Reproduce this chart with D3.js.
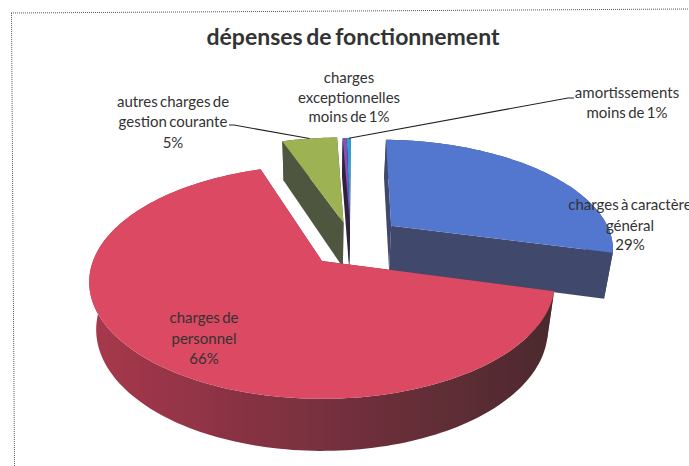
<!DOCTYPE html>
<html>
<head>
<meta charset="utf-8">
<title>dépenses de fonctionnement</title>
<script src="https://d3js.org/d3.v7.min.js"></script>
<style>
    html, body { margin: 0; padding: 0; background: #fff; overflow: hidden; }
    text { font-family: Lato, "Noto Sans", sans-serif; fill: #333; }
</style>
</head>
<body>
<div id="container"></div>
<script>
    // Values (percent of total)
    const categories = ["charges à caractère général", "charges de personnel", "autres charges de gestion courante", "amortissements", "charges exceptionnelles"];
    const values = [28.7, 65.8, 4.8, 0.35, 0.35];
    const percentLabels = ["29%", "66%", "5%", "moins de 1%", "moins de 1%"];

    const topColors = ["#5276cf", "#dc4a62", "#9db253", "#8a4fb0", "#2c9fdc"];
    const wallColors = ["#3f4a6c", "url(#redWall)", "#50573f", "#2f2440", "#2f2440"];

    const width = 689;
    const height = 466;

    // Perspective of the tilted disc: unit disc coordinates -> screen
    const cx = 322, cy = 261;
    const rx = 229, ry = 113, persp = 0.18;
    const depth = 46.5, depthPersp = 0.12, bottomShrink = 0.97;
    const startDeg = 1.5;

    // How far each slice is pulled out, in disc units
    const explodeX = [0.32, 0, 0.10, 0.13, 0.13];
    const explodeY = [0.33, 0, 0.36, 0.35, 0.35];

    function project(u, v, lower) {
        const w = 1 + persp * v;
        const x = rx * u / w;
        const y = -ry * v / w;
        if (!lower) return [cx + x, cy + y];
        return [cx + x * bottomShrink, cy + y + depth * (1 - depthPersp * v)];
    }

    const svg = d3.select("#container")
        .append("svg")
        .attr("width", width)
        .attr("height", height);

    const defs = svg.append("defs");

    const grad = defs.append("linearGradient")
        .attr("id", "redWall")
        .attr("gradientUnits", "userSpaceOnUse")
        .attr("x1", 90).attr("x2", 553).attr("y1", 0).attr("y2", 0);
    grad.append("stop").attr("offset", "0%").attr("stop-color", "#a8384c");
    grad.append("stop").attr("offset", "45%").attr("stop-color", "#7c3040");
    grad.append("stop").attr("offset", "100%").attr("stop-color", "#4b2b2e");

    // slight softness, the reference is a scan
    defs.append("filter").attr("id", "soft")
        .append("feGaussianBlur").attr("stdDeviation", 0.35);

    // Page frame, dotted
    const frame = svg.append("g").attr("fill", "none").attr("stroke", "#555").attr("stroke-dasharray", "1 1");
    frame.append("line").attr("x1", 11).attr("y1", 13).attr("x2", 689).attr("y2", 9);
    frame.append("line").attr("x1", 11.5).attr("y1", 13).attr("x2", 14.5).attr("y2", 466);

    const start = startDeg * Math.PI / 180;
    const pie = d3.pie().sort(null).value(d => d).startAngle(start).endAngle(start + 2 * Math.PI);
    const arcs = pie(values);
    const line = d3.line();

    function rimPoints(d, i, lower) {
        const n = Math.max(2, Math.ceil((d.endAngle - d.startAngle) * 40));
        return d3.range(n + 1).map(k => {
            const a = d.startAngle + (d.endAngle - d.startAngle) * k / n;
            return project(explodeX[i] + Math.sin(a), explodeY[i] + Math.cos(a), lower);
        });
    }

    const pieGroup = svg.append("g").attr("filter", "url(#soft)");

    // back to front: small slices first, red one last
    [4, 3, 2, 0, 1].forEach(i => {
        const d = arcs[i];
        const topRim = rimPoints(d, i, false);
        const lowRim = rimPoints(d, i, true);
        const apexTop = project(explodeX[i], explodeY[i], false);
        const apexLow = project(explodeX[i], explodeY[i], true);
        const g = pieGroup.append("g");

        // radial walls
        [0, topRim.length - 1].forEach(k => {
            g.append("path")
                .attr("d", line([apexTop, topRim[k], lowRim[k], apexLow]) + "Z")
                .attr("fill", i === 1 ? "#7c3040" : wallColors[i]);
        });
        // outer wall
        g.append("path")
            .attr("d", line(topRim.concat(lowRim.slice().reverse())) + "Z")
            .attr("fill", wallColors[i]);
        // top face
        g.append("path")
            .attr("d", line([apexTop].concat(topRim)) + "Z")
            .attr("fill", topColors[i]);
    });

    // Leader lines, from the label to the slice rim
    function rimMid(i) {
        const a = (arcs[i].startAngle + arcs[i].endAngle) / 2;
        return project(explodeX[i] + Math.sin(a), explodeY[i] + Math.cos(a), false);
    }
    const leaders = svg.append("g").attr("fill", "none").attr("stroke", "#222").attr("stroke-width", 1.1);
    leaders.append("path").attr("d", line([[229, 125], [234, 125], rimMid(2)]));
    leaders.append("path").attr("d", line([[574, 98], [568, 98], rimMid(4)]));

    svg.append("text")
        .attr("x", 353).attr("y", 45)
        .attr("text-anchor", "middle")
        .attr("font-size", 23)
        .attr("font-weight", 700)
        .attr("word-spacing", -2)
        .text("dépenses de fonctionnement");

    // Labels, one entry per line
    const labelLines = [
        { x: 173, y: [107, 127, 148], t: ["autres charges de", "gestion courante", percentLabels[2]] },
        { x: 349, y: [83, 103, 122], t: ["charges", "exceptionnelles", percentLabels[4]] },
        { x: 627, y: [98, 118], t: ["amortissements", percentLabels[3]] },
        { x: 630, y: [210, 231, 250], t: ["charges à caractère", "général", percentLabels[0]] },
        { x: 204, y: [323, 344, 364], t: ["charges de", "personnel", percentLabels[1]] }
    ];

    labelLines.forEach(l => {
        l.t.forEach((s, k) => {
            svg.append("text")
                .attr("x", l.x).attr("y", l.y[k])
                .attr("text-anchor", "middle")
                .attr("font-size", 15)
                .attr("word-spacing", -1.5)
                .text(s);
        });
    });
</script>
</body>
</html>
